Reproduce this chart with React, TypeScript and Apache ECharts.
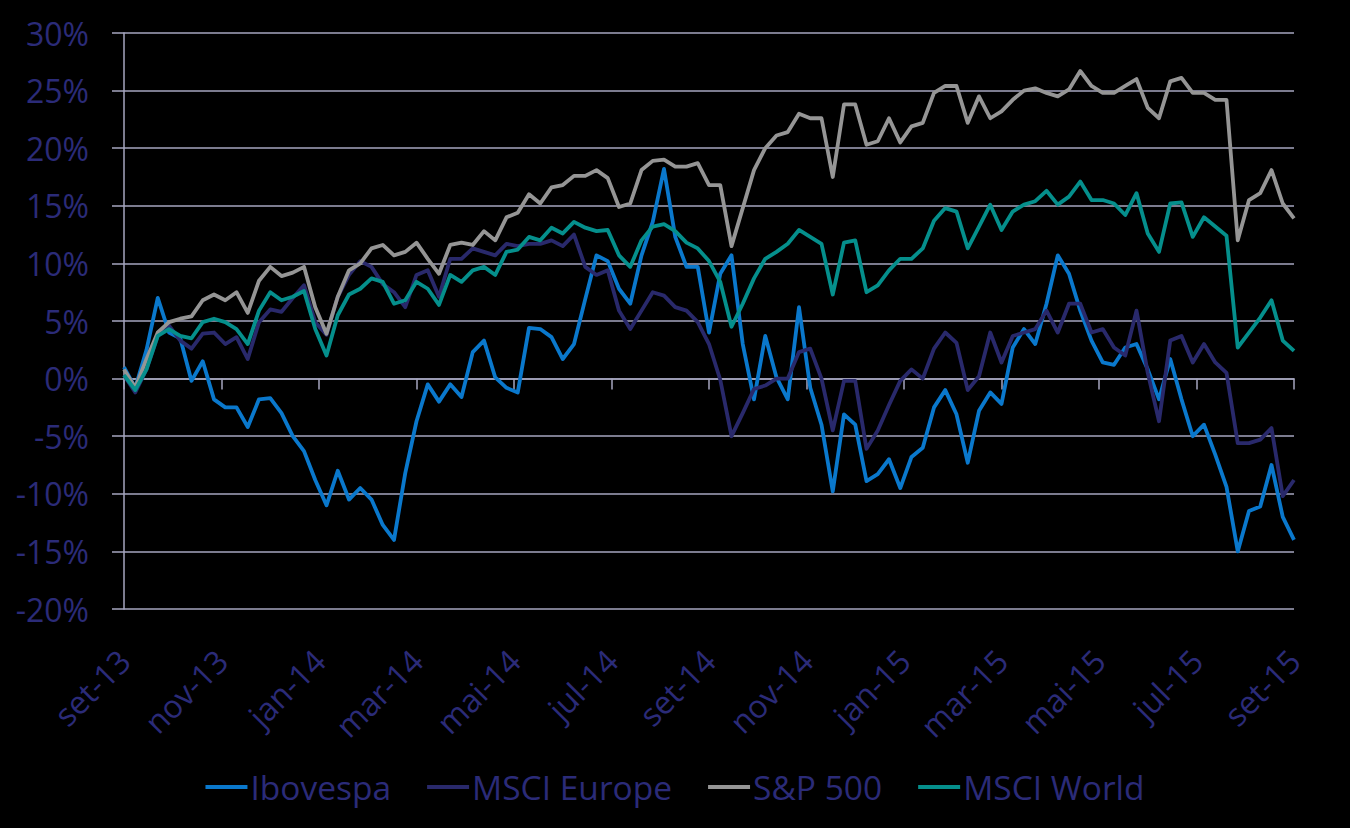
import React, { useEffect, useRef } from "react";
import * as echarts from "echarts";

// Month tick labels (every 2 months), x axis measured in months from set-13
const monthLabels = ["set-13", "nov-13", "jan-14", "mar-14", "mai-14", "jul-14", "set-14", "nov-14", "jan-15", "mar-15", "mai-15", "jul-15", "set-15"];
const seriesNames = ["Ibovespa", "MSCI Europe", "S&P 500", "MSCI World"];

// Weekly cumulative returns (%)
const ibovespa = [
  1.0, -0.8, 2.5, 7.0, 4.0, 3.5, -0.2, 1.5, -1.8, -2.5,
  -2.5, -4.2, -1.8, -1.7, -3.0, -5.0, -6.3, -8.8, -11.0, -8.0,
  -10.5, -9.5, -10.5, -12.7, -14.0, -8.2, -3.7, -0.5, -2.0, -0.5,
  -1.6, 2.3, 3.3, 0.1, -0.8, -1.2, 4.4, 4.3, 3.6, 1.7,
  3.0, 6.9, 10.7, 10.2, 7.8, 6.5, 10.7, 13.6, 18.2, 12.3,
  9.7, 9.7, 4.0, 9.1, 10.7, 3.0, -1.8, 3.7, 0.1, -1.8,
  6.2, -0.8, -4.0, -9.8, -3.1, -4.0, -8.9, -8.3, -7.0, -9.5,
  -6.8, -6.0, -2.5, -1.0, -3.1, -7.3, -2.8, -1.2, -2.2, 2.7,
  4.3, 3.0, 6.5, 10.7, 9.1, 5.9, 3.3, 1.4, 1.2, 2.7,
  3.0, 0.8, -1.8, 1.7, -1.8, -5.0, -4.0, -6.6, -9.4, -15.0,
  -11.5, -11.1, -7.5, -12.0, -14.0,
];
const msciEurope = [
  0.3, -1.2, 0.8, 3.7, 4.6, 3.3, 2.6, 3.9, 4.0, 3.0,
  3.6, 1.7, 4.9, 6.0, 5.8, 7.0, 8.1, 4.9, 3.8, 7.1,
  9.0, 10.2, 9.7, 8.2, 7.5, 6.2, 9.0, 9.4, 7.1, 10.4,
  10.4, 11.3, 11.0, 10.7, 11.7, 11.5, 11.7, 11.7, 12.0, 11.5,
  12.5, 9.7, 9.0, 9.4, 5.9, 4.3, 5.9, 7.5, 7.2, 6.2,
  5.9, 4.9, 3.0, -0.1, -5.0, -3.0, -0.9, -0.6, 0.0, 0.0,
  2.3, 2.6, 0.0, -4.5, -0.2, -0.2, -6.1, -4.5, -2.3, -0.2,
  0.8, 0.0, 2.6, 4.0, 3.1, -1.0, 0.2, 4.0, 1.4, 3.7,
  4.0, 4.3, 5.9, 4.0, 6.5, 6.5, 4.0, 4.3, 2.7, 2.0,
  5.9, 0.5, -3.7, 3.3, 3.7, 1.4, 3.0, 1.4, 0.5, -5.6,
  -5.6, -5.3, -4.3, -10.2, -8.8,
];
const sp500 = [
  0.8, -0.8, 1.7, 4.0, 4.9, 5.2, 5.4, 6.8, 7.3, 6.8,
  7.5, 5.7, 8.5, 9.7, 8.9, 9.2, 9.7, 6.2, 3.9, 7.1,
  9.4, 10.0, 11.3, 11.6, 10.7, 11.0, 11.8, 10.4, 9.1, 11.6,
  11.8, 11.6, 12.8, 12.0, 14.0, 14.4, 16.0, 15.2, 16.6, 16.8,
  17.6, 17.6, 18.1, 17.4, 14.9, 15.2, 18.1, 18.9, 19.0, 18.4,
  18.4, 18.7, 16.8, 16.8, 11.5, 14.8, 18.1, 20.0, 21.1, 21.4,
  23.0, 22.6, 22.6, 17.5, 23.8, 23.8, 20.3, 20.6, 22.6, 20.5,
  21.9, 22.2, 24.8, 25.4, 25.4, 22.2, 24.5, 22.6, 23.2, 24.2,
  25.0, 25.2, 24.8, 24.5, 25.1, 26.7, 25.4, 24.8, 24.8, 25.4,
  26.0, 23.5, 22.6, 25.8, 26.1, 24.8, 24.8, 24.2, 24.2, 12.0,
  15.5, 16.1, 18.1, 15.2, 13.9,
];
const msciWorld = [
  0.3, -1.0, 0.8, 3.7, 4.3, 3.7, 3.5, 4.9, 5.2, 4.9,
  4.3, 3.0, 5.9, 7.5, 6.8, 7.1, 7.6, 4.3, 2.0, 5.5,
  7.3, 7.8, 8.7, 8.4, 6.5, 6.8, 8.4, 7.8, 6.4, 9.0,
  8.4, 9.4, 9.7, 9.0, 11.0, 11.2, 12.3, 12.0, 13.1, 12.6,
  13.6, 13.1, 12.8, 12.9, 10.7, 9.7, 12.0, 13.2, 13.4, 12.8,
  11.8, 11.3, 10.2, 8.4, 4.5, 6.5, 8.7, 10.4, 11.0, 11.7,
  12.9, 12.3, 11.7, 7.3, 11.8, 12.0, 7.5, 8.1, 9.4, 10.4,
  10.4, 11.3, 13.7, 14.8, 14.5, 11.3, 13.2, 15.1, 12.9, 14.5,
  15.1, 15.4, 16.3, 15.1, 15.8, 17.1, 15.5, 15.5, 15.2, 14.2,
  16.1, 12.6, 11.0, 15.2, 15.3, 12.3, 14.0, 13.2, 12.4, 2.7,
  4.0, 5.3, 6.8, 3.3, 2.4,
];
const seriesColors = ["#0A78CC", "#29296B", "#959595", "#058F8C"];

const SPAN_MONTHS = 24;
const TEXT = "#2B2B78";
const GRID = "#A6A6BF";
const FONT = "'Open Sans', 'Noto Sans', sans-serif";

function toPoints(values: number[]) {
  const n = values.length;
  return values.map((v, i) => [(i * SPAN_MONTHS) / (n - 1), v]);
}

export default function App() {
  const ref = useRef<HTMLDivElement>(null);
  useEffect(() => {
    document.body.style.margin = "0";
    document.body.style.background = "#000";
    const chart = echarts.init(ref.current!, null, { renderer: "svg" });
    const all = [ibovespa, msciEurope, sp500, msciWorld];
    chart.setOption({
      animation: false,
      backgroundColor: "#000",
      textStyle: { fontFamily: FONT },
      grid: { left: 124, right: 56, top: 33, bottom: 219, containLabel: false },
      legend: {
        data: seriesNames,
        left: "center",
        top: 765,
        icon: "rect",
        itemWidth: 42,
        itemHeight: 4,
        itemGap: 36,
        textStyle: { color: TEXT, fontSize: 33.5, fontFamily: FONT, padding: [0, 0, 0, -2] },
      },
      xAxis: [
        {
          type: "value",
          min: 0,
          max: SPAN_MONTHS,
          interval: 2,
          position: "bottom",
          axisLine: { show: false, onZero: false },
          axisTick: { show: false },
          splitLine: { show: false },
          axisLabel: {
            rotate: 45,
            margin: 46,
            color: TEXT,
            fontSize: 32,
            fontFamily: FONT,
            formatter: (v: number) => monthLabels[Math.round(v / 2)] ?? "",
          },
        },
        {
          type: "value",
          min: 0,
          max: SPAN_MONTHS,
          interval: 2,
          position: "bottom",
          axisLine: { show: true, onZero: true, onZeroAxisIndex: 0, lineStyle: { color: GRID, width: 1.5 } },
          axisTick: { show: true, length: 11, inside: false, lineStyle: { color: GRID, width: 1.5 } },
          splitLine: { show: false },
          axisLabel: { show: false },
        },
      ],
      yAxis: {
        type: "value",
        min: -20,
        max: 30,
        interval: 5,
        axisLine: { show: true, lineStyle: { color: GRID, width: 1.5 } },
        axisTick: { show: true, length: 12, lineStyle: { color: GRID, width: 1.5 } },
        splitLine: { show: true, lineStyle: { color: GRID, width: 1.5 } },
        axisLabel: {
          margin: 35,
          color: TEXT,
          fontSize: 32,
          fontFamily: FONT,
          formatter: (v: number) => `${v}%`,
        },
      },
      series: all.map((vals, k) => ({
        name: seriesNames[k],
        type: "line",
        xAxisIndex: 0,
        data: toPoints(vals),
        showSymbol: false,
        symbol: "none",
        lineStyle: { color: seriesColors[k], width: 3.8, join: "round" },
        itemStyle: { color: seriesColors[k] },
        emphasis: { disabled: true },
      })),
    });
    return () => chart.dispose();
  }, []);
  return <div ref={ref} style={{ width: 1350, height: 828 }} />;
}
